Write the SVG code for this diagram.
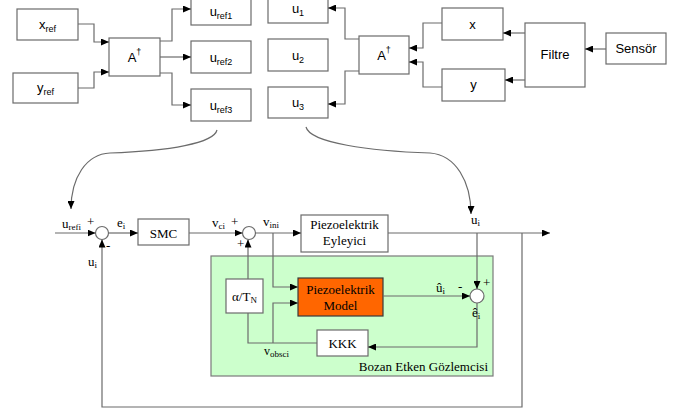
<svg xmlns="http://www.w3.org/2000/svg" width="686" height="414" viewBox="0 0 686 414">
<defs>
<marker id="ah" markerWidth="8" markerHeight="7" refX="8" refY="3.5" orient="auto" markerUnits="userSpaceOnUse">
<path d="M0,0 L8,3.5 L0,7 z" fill="#000"/>
</marker>
<style>
.box{fill:#fff;stroke:#6b6b6b;stroke-width:1.2}
.ln{fill:none;stroke:#6b6b6b;stroke-width:1.2}
.arr{fill:none;stroke:#6b6b6b;stroke-width:1.2;marker-end:url(#ah)}
.sans{font-family:"Liberation Sans",Arial,sans-serif;font-size:13px;fill:#000;text-anchor:middle}
.serif{font-family:"Liberation Serif","Times New Roman",serif;font-size:13px;fill:#000}
.mid{text-anchor:middle}
.sub{font-size:9px}
.sm{font-size:12px}
</style>
</defs>
<rect width="686" height="414" fill="#fff"/>

<!-- top section nodes -->
<g id="xref"><rect class="box" x="17" y="9" width="61" height="31"/><text class="sans" x="47.5" y="29">x<tspan class="sub" dy="3">ref</tspan></text></g>
<g id="yref"><rect class="box" x="13" y="73" width="65" height="30"/><text class="sans" x="45.5" y="92">y<tspan class="sub" dy="3">ref</tspan></text></g>
<g id="A1"><rect class="box" x="109" y="38" width="51" height="38"/><text class="sans" x="134.5" y="62">A<tspan class="sub" dy="-7">†</tspan></text></g>
<g id="uref1"><rect class="box" x="191" y="-3" width="60" height="28"/><text class="sans" x="221" y="16">u<tspan class="sub" dy="3">ref1</tspan></text></g>
<g id="uref2"><rect class="box" x="191" y="41" width="60" height="32"/><text class="sans" x="221" y="62">u<tspan class="sub" dy="3">ref2</tspan></text></g>
<g id="uref3"><rect class="box" x="191" y="89" width="60" height="32"/><text class="sans" x="221" y="110">u<tspan class="sub" dy="3">ref3</tspan></text></g>
<g id="u1"><rect class="box" x="268" y="-3" width="60" height="26"/><text class="sans" x="298" y="13">u<tspan class="sub" dy="3">1</tspan></text></g>
<g id="u2"><rect class="box" x="268" y="39" width="60" height="32"/><text class="sans" x="298" y="60">u<tspan class="sub" dy="3">2</tspan></text></g>
<g id="u3"><rect class="box" x="268" y="87" width="60" height="31"/><text class="sans" x="298" y="107">u<tspan class="sub" dy="3">3</tspan></text></g>
<g id="A2"><rect class="box" x="359" y="36" width="50" height="38"/><text class="sans" x="384" y="60">A<tspan class="sub" dy="-7">†</tspan></text></g>
<g id="x"><rect class="box" x="442" y="8" width="61" height="32"/><text class="sans" x="472.5" y="29">x</text></g>
<g id="y"><rect class="box" x="442" y="69" width="63" height="32"/><text class="sans" x="473.5" y="89">y</text></g>
<g id="filtre"><rect class="box" x="525" y="23" width="60" height="64"/><text class="sans" x="555" y="59">Filtre</text></g>
<g id="sensor"><rect class="box" x="606" y="33" width="60" height="31"/><text class="sans" x="636" y="53">Sensör</text></g>

<!-- bottom section nodes -->
<g id="observer"><rect x="211" y="256" width="282" height="120" fill="#ccffcc" stroke="#7a7a7a" stroke-width="1.2"/><text class="serif" x="488" y="371" text-anchor="end">Bozan Etken Gözlemcisi</text></g>
<g id="sum1"><circle class="box" cx="102" cy="233" r="6.5"/></g>
<g id="smc"><rect class="box" x="138" y="219" width="51" height="26"/><text class="serif mid" x="163.5" y="238">SMC</text></g>
<g id="sum2"><circle class="box" cx="249" cy="233" r="6.5"/></g>
<g id="eyleyici"><rect class="box" x="301" y="215" width="87" height="37"/><text class="serif mid" x="344.5" y="229">Piezoelektrik</text><text class="serif mid" x="344.5" y="245">Eyleyici</text></g>
<g id="alpha"><rect class="box" x="226" y="279" width="37" height="34"/><text class="serif mid" x="244.5" y="301">α/T<tspan class="sub" dy="2">N</tspan></text></g>
<g id="model"><rect x="298" y="278" width="85" height="38" fill="#ff6600" stroke="#3a3a3a" stroke-width="1.2"/><text class="serif mid" x="340.5" y="294">Piezoelektrik</text><text class="serif mid" x="340.5" y="310">Model</text></g>
<g id="sum3"><circle class="box" cx="477" cy="296" r="7"/></g>
<g id="kkk"><rect class="box" x="317" y="330" width="51" height="26"/><text class="serif mid" x="342.5" y="348">KKK</text></g>

<!-- connectors -->
<g id="connectors">
<path class="arr" d="M78,24 H94 V42 H109"/>
<path class="arr" d="M78,88 H94 V72 H109"/>
<path class="arr" d="M160,41 H172 V9 H191"/>
<path class="arr" d="M160,57 H191"/>
<path class="arr" d="M160,73 H172 V105 H191"/>
<path class="arr" d="M359,39 H345 V8 H328"/>
<path class="arr" d="M359,71 H345 V104 H328"/>
<path class="arr" d="M442,23 H423 V48 H409"/>
<path class="arr" d="M442,87 H423 V62 H409"/>
<path class="arr" d="M525,33 H503"/>
<path class="arr" d="M525,80 H505"/>
<path class="arr" d="M606,49 H585"/>
<path class="arr" d="M217,130 C214,143 170,151 110,153 C86,154 71,178 71,209"/>
<path class="arr" d="M306,127 C310,143 370,151 430,153 C456,155 471,182 471,214"/>
<path class="arr" d="M55,233 H95.5"/>
<path class="arr" d="M108.5,233 H138"/>
<path class="arr" d="M189,233 H242.5"/>
<path class="arr" d="M255.5,233 H301"/>
<path class="arr" d="M388,233 H550"/>
<path class="arr" d="M522,233 V407 H102 V239.5"/>
<path class="arr" d="M477,233 V289"/>
<path class="arr" d="M273,233 V287 H298"/>
<path class="arr" d="M383,296 H470"/>
<path class="arr" d="M477,303 V347 H368"/>
<path class="ln" d="M317,343 H248 V313"/>
<path class="arr" d="M273,343 V303 H298"/>
<path class="arr" d="M248,279 V239.5"/>
</g>

<!-- labels -->
<g id="labels">
<text class="serif" x="62" y="228">u<tspan class="sub" dy="2">refi</tspan></text>
<text class="serif" x="87" y="226">+</text>
<text class="serif" x="106" y="250">-</text>
<text class="serif" x="88" y="266">u<tspan class="sub" dy="2">i</tspan></text>
<text class="serif" x="117" y="227">e<tspan class="sub" dy="2">i</tspan></text>
<text class="serif" x="212" y="227">v<tspan class="sub" dy="2">ci</tspan></text>
<text class="serif" x="231" y="226">+</text>
<text class="serif" x="237" y="248">+</text>
<text class="serif" x="263" y="226">v<tspan class="sub" dy="2">ini</tspan></text>
<text class="serif" x="471" y="224">u<tspan class="sub" dy="2">i</tspan></text>
<text class="serif" x="436" y="292">û<tspan class="sub" dy="2">i</tspan></text>
<text class="serif" x="458" y="291">-</text>
<text class="serif" x="483" y="287">+</text>
<text class="serif" x="472" y="317">ê<tspan class="sub" dy="2">i</tspan></text>
<text class="serif sm" x="264" y="355">v<tspan class="sub" dy="2">obsci</tspan></text>
</g>
</svg>
